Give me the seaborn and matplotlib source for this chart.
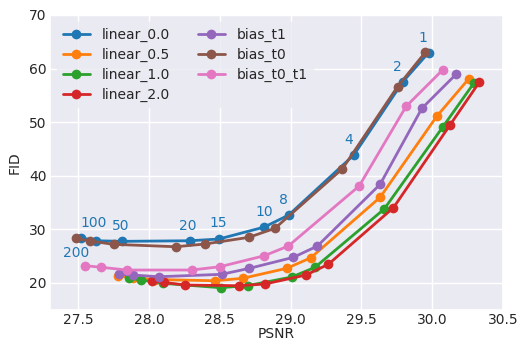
import numpy as np
import pandas as pd
import matplotlib
matplotlib.use("Agg")
import matplotlib.pyplot as plt
from matplotlib.lines import Line2D
import seaborn as sns

series_names = ["linear_0.0", "linear_0.5", "linear_1.0", "linear_2.0",
                "bias_t1", "bias_t0", "bias_t0_t1"]

steps = ["200", "100", "50", "20", "15", "10", "8", "4", "2", "1"]

linear_0_0_psnr = [27.516, 27.622, 27.811, 28.288, 28.493, 28.814, 28.986, 29.446, 29.793, 29.974]
linear_0_0_fid = [28.40, 27.84, 27.73, 27.84, 28.16, 30.40, 32.64, 43.85, 57.54, 62.96]

linear_0_5_psnr = [27.780, 27.884, 28.040, 28.465, 28.661, 28.972, 29.142, 29.632, 30.032, 30.257]
linear_0_5_fid = [21.25, 20.97, 20.60, 20.37, 20.82, 22.69, 24.65, 35.95, 51.08, 58.05]

linear_1_0_psnr = [27.858, 27.946, 28.099, 28.505, 28.700, 29.007, 29.172, 29.661, 30.076, 30.293]
linear_1_0_fid = [20.82, 20.50, 19.89, 19.07, 19.48, 21.06, 22.88, 33.77, 49.14, 57.24]

linear_2_0_psnr = [28.017, 28.104, 28.252, 28.637, 28.818, 29.108, 29.266, 29.726, 30.127, 30.332]
linear_2_0_fid = [20.37, 20.07, 19.57, 19.44, 19.76, 21.44, 23.44, 34.01, 49.51, 57.43]

bias_t1_psnr = [27.787, 27.886, 28.068, 28.512, 28.709, 29.019, 29.189, 29.632, 29.927, 30.168]
bias_t1_fid = [21.57, 21.44, 21.12, 21.57, 22.69, 24.74, 26.85, 38.38, 52.57, 58.92]

bias_t0_psnr = [27.481, 27.580, 27.750, 28.189, 28.394, 28.705, 28.889, 29.366, 29.755, 29.951]
bias_t0_fid = [28.29, 27.79, 27.17, 26.72, 27.23, 28.48, 30.16, 41.29, 56.61, 63.03]

bias_t0_t1_psnr = [27.550, 27.663, 27.844, 28.300, 28.500, 28.814, 28.983, 29.484, 29.816, 30.073]
bias_t0_t1_fid = [23.18, 22.88, 22.37, 22.37, 22.99, 25.04, 26.85, 38.06, 52.95, 59.72]

all_psnr = [linear_0_0_psnr, linear_0_5_psnr, linear_1_0_psnr, linear_2_0_psnr,
            bias_t1_psnr, bias_t0_psnr, bias_t0_t1_psnr]
all_fid = [linear_0_0_fid, linear_0_5_fid, linear_1_0_fid, linear_2_0_fid,
           bias_t1_fid, bias_t0_fid, bias_t0_t1_fid]

rows = []
for name, xs, ys in zip(series_names, all_psnr, all_fid):
    for x, y in zip(xs, ys):
        rows.append({"method": name, "PSNR": x, "FID": y})
df = pd.DataFrame(rows)

sns.set_theme(style="darkgrid")
plt.rcParams["font.family"] = ["DejaVu Sans"]

palette = sns.color_palette("tab10", 7)

fig = plt.figure(figsize=(5.19, 3.44), dpi=100)
ax = fig.add_axes([50 / 519, 1 - 309.5 / 344, 453 / 519, 294.5 / 344])

sns.lineplot(data=df, x="PSNR", y="FID", hue="method", hue_order=series_names,
             palette=palette, estimator=None, sort=False, marker="o",
             markersize=7, markeredgewidth=0, linewidth=2, ax=ax, legend=False)

# step annotations on linear_0.0
label_dx = [-3, -1.5, -1.2, -1.5, -0.8, 0, -3.6, -3.6, -4, -3.8]
label_dy = [-10.8, 12.5, 11, 10.8, 11.5, 10.8, 10.5, 10.8, 10.8, 10.8]
for s, x, y, dx, dy in zip(steps, linear_0_0_psnr, linear_0_0_fid, label_dx, label_dy):
    ax.annotate(s, (x, y), xytext=(dx, dy), textcoords="offset points",
                ha="center", va="center", color=palette[0], fontsize=10)

ax.set_xlim(27.3, 30.5)
ax.set_ylim(15, 70)
ax.set_xticks([27.5, 28.0, 28.5, 29.0, 29.5, 30.0, 30.5])
ax.set_yticks([20, 30, 40, 50, 60, 70])
ax.tick_params(labelsize=10, length=0, pad=2.5, labelcolor="#262626")
ax.set_xlabel("PSNR", fontsize=10, labelpad=0)
ax.set_ylabel("FID", fontsize=10, labelpad=5)

handles = [Line2D([], [], color=palette[i], marker="o", markersize=7,
                  markeredgewidth=0, linewidth=2) for i in range(len(series_names))]
leg = ax.legend(handles, series_names, ncol=2, loc="upper left", fontsize=10,
                labelspacing=0.42, framealpha=0.8)
leg.get_frame().set_edgecolor("#EAEAF2")
leg.get_frame().set_facecolor("#EAEAF2")

fig.savefig("out.png", dpi=100)
